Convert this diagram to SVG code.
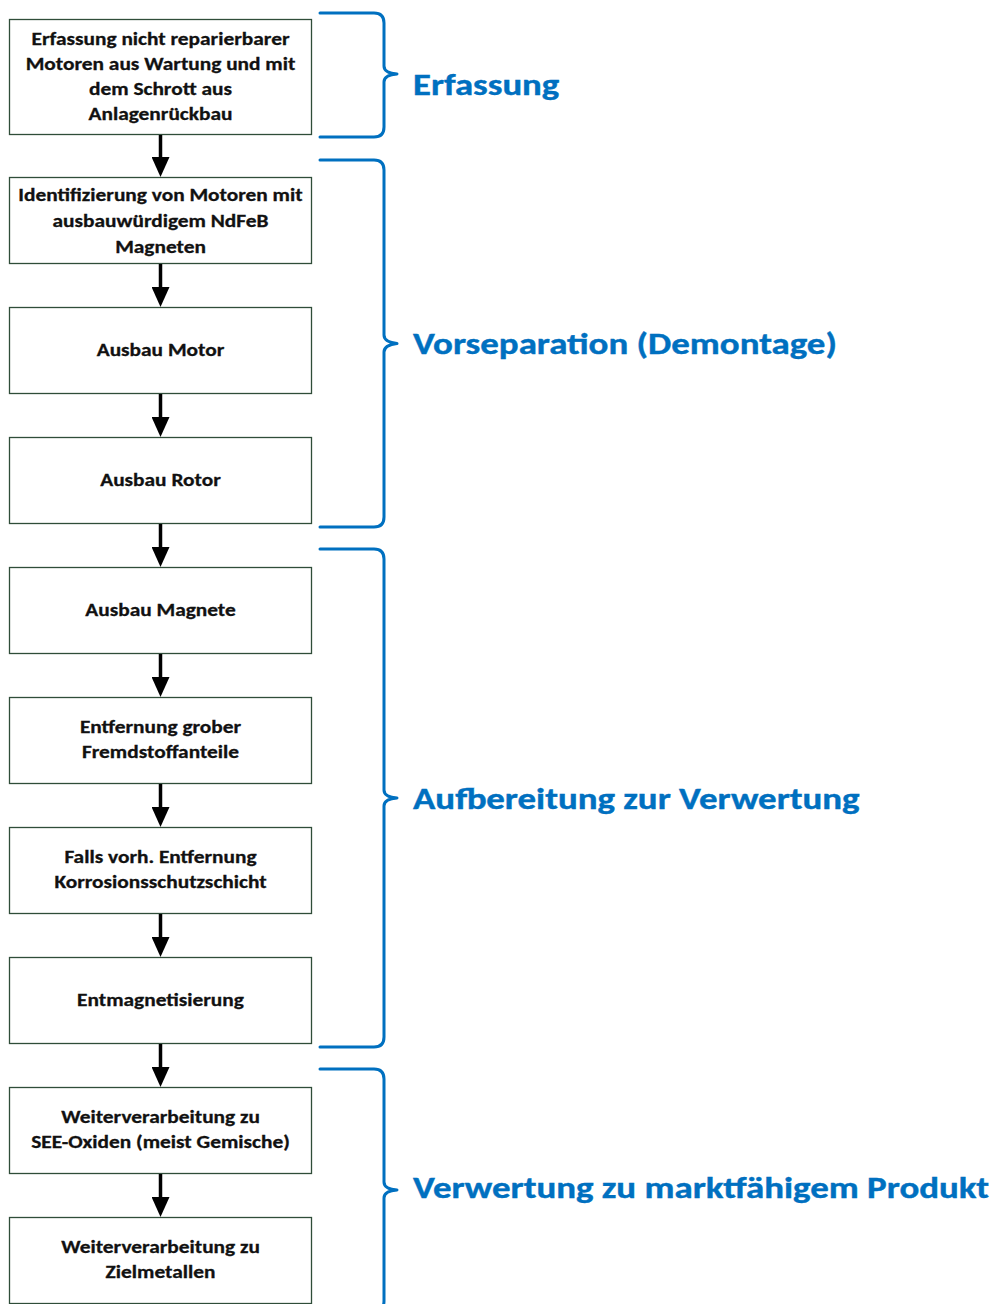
<svg xmlns="http://www.w3.org/2000/svg" width="990" height="1304" viewBox="0 0 990 1304">
  <style>
    .box { fill: #ffffff; stroke: #2f4d39; stroke-width: 1.3; }
    .txt { font-family: Carlito, Lato, "Liberation Sans", sans-serif; font-weight: bold; font-size: 18.5px; fill: #111111; stroke: #111111; stroke-width: 0.3; text-anchor: middle; }
    .brace { fill: none; stroke: #0070c0; stroke-width: 3; stroke-linecap: round; stroke-linejoin: round; }
    .phase { font-family: Carlito, Lato, "Liberation Sans", sans-serif; font-weight: bold; font-size: 31px; fill: #0070c0; stroke: #0070c0; stroke-width: 0.4; }
    .flow { stroke: #000000; stroke-width: 3.5; fill: none; }
  </style>
  <defs>
    <marker id="head" markerUnits="userSpaceOnUse" markerWidth="20" markerHeight="18" viewBox="0 -9 20 18" refX="10" refY="0" orient="auto">
      <path d="M0,-9 L20,0 L0,9 Z" fill="#000000"/>
    </marker>
  </defs>

  <!-- process steps (labels widened to the Calibri-like set width) -->
  <g id="step1">
    <rect class="box" x="9.5" y="19.5" width="302" height="115"/>
    <g transform="translate(160.5 0) scale(1.155 1)">
      <text class="txt" x="0" y="45">Erfassung nicht reparierbarer</text>
      <text class="txt" x="0" y="70">Motoren aus Wartung und mit</text>
      <text class="txt" x="0" y="95">dem Schrott aus</text>
      <text class="txt" x="0" y="120">Anlagenrückbau</text>
    </g>
  </g>
  <g id="step2">
    <rect class="box" x="9.5" y="177.5" width="302" height="86"/>
    <g transform="translate(160.5 0) scale(1.155 1)">
      <text class="txt" x="0" y="201">Identifizierung von Motoren mit</text>
      <text class="txt" x="0" y="227">ausbauwürdigem NdFeB</text>
      <text class="txt" x="0" y="253">Magneten</text>
    </g>
  </g>
  <g id="step3">
    <rect class="box" x="9.5" y="307.5" width="302" height="86"/>
    <g transform="translate(160.5 0) scale(1.155 1)">
      <text class="txt" x="0" y="356">Ausbau Motor</text>
    </g>
  </g>
  <g id="step4">
    <rect class="box" x="9.5" y="437.5" width="302" height="86"/>
    <g transform="translate(160.5 0) scale(1.155 1)">
      <text class="txt" x="0" y="486">Ausbau Rotor</text>
    </g>
  </g>
  <g id="step5">
    <rect class="box" x="9.5" y="567.5" width="302" height="86"/>
    <g transform="translate(160.5 0) scale(1.155 1)">
      <text class="txt" x="0" y="616">Ausbau Magnete</text>
    </g>
  </g>
  <g id="step6">
    <rect class="box" x="9.5" y="697.5" width="302" height="86"/>
    <g transform="translate(160.5 0) scale(1.155 1)">
      <text class="txt" x="0" y="733.5">Entfernung grober</text>
      <text class="txt" x="0" y="758.5">Fremdstoffanteile</text>
    </g>
  </g>
  <g id="step7">
    <rect class="box" x="9.5" y="827.5" width="302" height="86"/>
    <g transform="translate(160.5 0) scale(1.155 1)">
      <text class="txt" x="0" y="863.5">Falls vorh. Entfernung</text>
      <text class="txt" x="0" y="888.5">Korrosionsschutzschicht</text>
    </g>
  </g>
  <g id="step8">
    <rect class="box" x="9.5" y="957.5" width="302" height="86"/>
    <g transform="translate(160.5 0) scale(1.155 1)">
      <text class="txt" x="0" y="1006">Entmagnetisierung</text>
    </g>
  </g>
  <g id="step9">
    <rect class="box" x="9.5" y="1087.5" width="302" height="86"/>
    <g transform="translate(160.5 0) scale(1.155 1)">
      <text class="txt" x="0" y="1123.5">Weiterverarbeitung zu</text>
      <text class="txt" x="0" y="1148.5">SEE-Oxiden (meist Gemische)</text>
    </g>
  </g>
  <g id="step10">
    <rect class="box" x="9.5" y="1217.5" width="302" height="86"/>
    <g transform="translate(160.5 0) scale(1.155 1)">
      <text class="txt" x="0" y="1253.5">Weiterverarbeitung zu</text>
      <text class="txt" x="0" y="1278.5">Zielmetallen</text>
    </g>
  </g>

  <!-- flow arrows between steps -->
  <g id="connectors">
    <line class="flow" x1="160.5" y1="135" x2="160.5" y2="167" marker-end="url(#head)"/>
    <line class="flow" x1="160.5" y1="264" x2="160.5" y2="297" marker-end="url(#head)"/>
    <line class="flow" x1="160.5" y1="394" x2="160.5" y2="427" marker-end="url(#head)"/>
    <line class="flow" x1="160.5" y1="524" x2="160.5" y2="557" marker-end="url(#head)"/>
    <line class="flow" x1="160.5" y1="654" x2="160.5" y2="687" marker-end="url(#head)"/>
    <line class="flow" x1="160.5" y1="784" x2="160.5" y2="817" marker-end="url(#head)"/>
    <line class="flow" x1="160.5" y1="914" x2="160.5" y2="947" marker-end="url(#head)"/>
    <line class="flow" x1="160.5" y1="1044" x2="160.5" y2="1077" marker-end="url(#head)"/>
    <line class="flow" x1="160.5" y1="1174" x2="160.5" y2="1207" marker-end="url(#head)"/>
  </g>

  <!-- phase brackets and labels -->
  <g id="phase1">
    <path class="brace" d="M320,13 H374 Q384,13 384,23 V66 Q384,73 397,74 Q384,75 384,82 V127 Q384,137 374,137 H320"/>
    <text class="phase" transform="translate(413 95) scale(1.185 1)">Erfassung</text>
  </g>
  <g id="phase2">
    <path class="brace" d="M320,160 H374 Q384,160 384,170 V335 Q384,342 397,343.5 Q384,345 384,352 V517 Q384,527 374,527 H320"/>
    <text class="phase" transform="translate(413 354) scale(1.19 1)">Vorseparation (Demontage)</text>
  </g>
  <g id="phase3">
    <path class="brace" d="M320,549 H374 Q384,549 384,559 V790 Q384,797 397,798 Q384,799 384,806 V1037 Q384,1047 374,1047 H320"/>
    <text class="phase" transform="translate(413 809) scale(1.19 1)">Aufbereitung zur Verwertung</text>
  </g>
  <g id="phase4">
    <path class="brace" d="M320,1069 H374 Q384,1069 384,1079 V1182 Q384,1189 397,1190 Q384,1191 384,1198 V1301 Q384,1311 374,1311 H320"/>
    <text class="phase" transform="translate(413 1198) scale(1.19 1)">Verwertung zu marktfähigem Produkt</text>
  </g>
</svg>
